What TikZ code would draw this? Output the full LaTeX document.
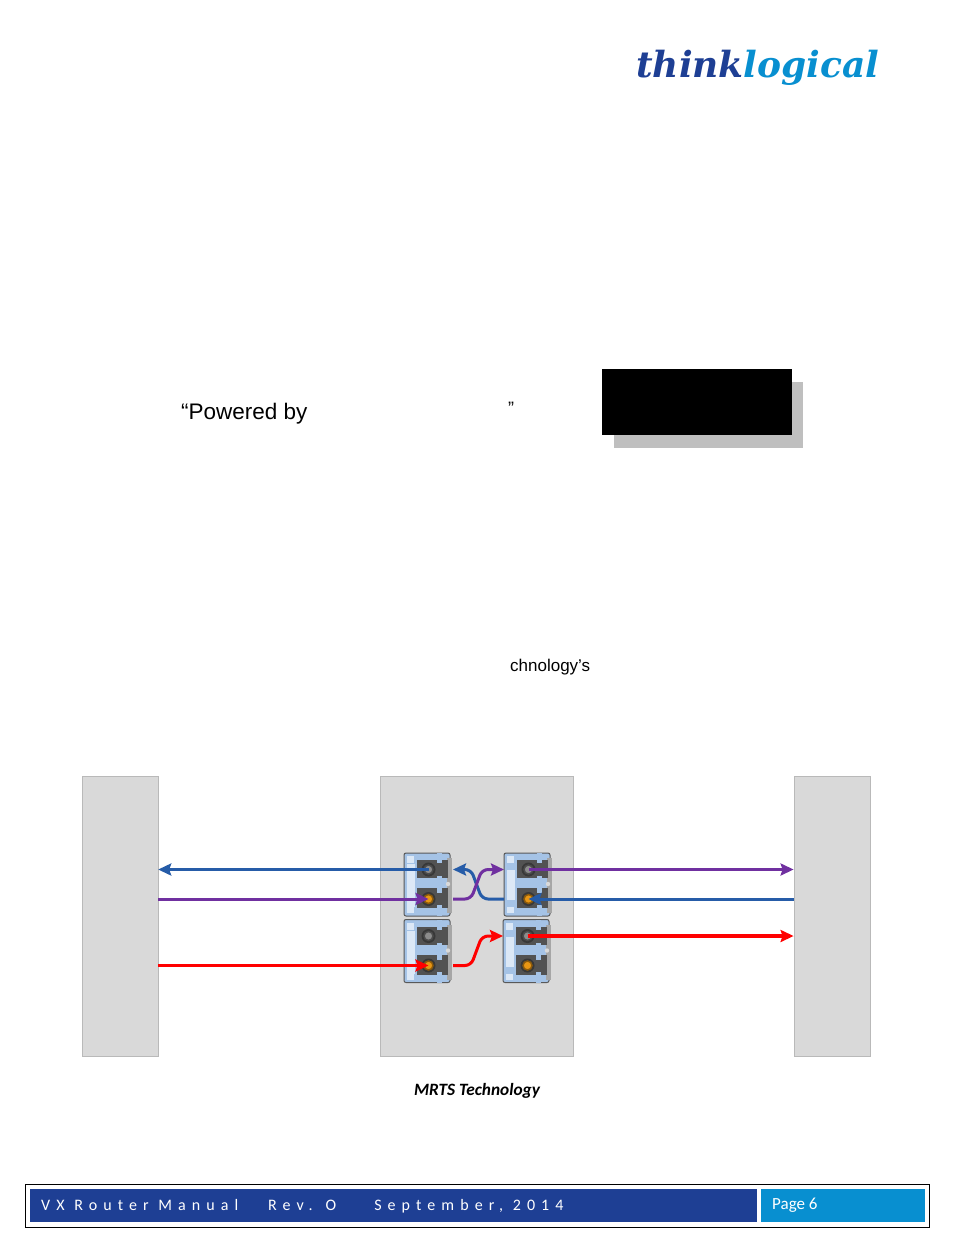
\documentclass[tikz,border=0pt]{standalone}
\usepackage{fontspec}
\setmainfont{Liberation Sans}
\newfontfamily\captionfont{Carlito}
\newfontfamily\footerfont[LetterSpace=38]{Carlito}
\newfontfamily\logofont{DejaVu Serif}
\usetikzlibrary{positioning,calc,arrows.meta}
\definecolor{panelColor}{RGB}{217,217,217}
\definecolor{panelEdge}{RGB}{185,185,185}
\definecolor{darkBlue}{RGB}{30,63,148}
\definecolor{lightBlue}{RGB}{8,143,208}
\definecolor{wireBlue}{RGB}{38,92,168}
\definecolor{wirePurple}{RGB}{112,48,160}
\definecolor{bodyBlue}{RGB}{165,195,230}
\definecolor{bandBlue}{RGB}{220,232,246}
\definecolor{portOrange}{RGB}{232,150,20}
\tikzset{
    panel/.style={
        draw=panelEdge,
        fill=panelColor,
        minimum height=280pt,
        inner sep=0pt
    },
    ptr/.style={
        -{Stealth[length=13pt,width=12pt,inset=2pt]},
        line width=3pt
    },
    socket/.style={
        circle,
        draw=black!70,
        line width=1.5pt,
        minimum size=9pt,
        inner sep=0pt
    },
    footerText/.style={
        text=white,
        anchor=west,
        inner sep=0pt
    },
    pics/relay/.style 2 args={
        code={
            \draw[rounded corners=2pt, draw=black!65, line width=1pt, fill=bodyBlue] (0,0) rectangle (46,63);
            \fill[gray!70] (43,5) rectangle (48,60);
            \fill[bandBlue] (3,#1) rectangle (11,#2);
            \fill[black!68] (13,7) rectangle (44,25);
            \fill[black!68] (13,35) rectangle (44,55);
            \fill[black!78] (24.5,16.5) circle (7);
            \fill[black!78] (24.5,46) circle (7);
            \fill[bodyBlue] (11,27) rectangle (43,33);
            \fill[bodyBlue] (33,0) rectangle (38,10);
            \fill[bodyBlue] (33,23) rectangle (38,40);
            \fill[bodyBlue] (33,52) rectangle (38,63);
            \fill[bandBlue] (3,3) rectangle (10,10);
            \fill[bandBlue] (3,54) rectangle (10,60);
            \fill[black!15] (44,31) circle (2.2);
            \node[socket, fill=black!45] (-top) at (24.5,16.5) {};
            \node[socket, fill=portOrange, draw=portOrange!60!black] (-bot) at (24.5,46) {};
            \coordinate (-nw) at (0,16.5);
            \coordinate (-sw) at (0,46);
            \coordinate (-ne) at (49,16.5);
            \coordinate (-se) at (49,46);
        }
    }
}
\begin{document}
\begin{tikzpicture}[x=1pt,y=-1pt]
    \useasboundingbox (0,0) rectangle (954,1235);
    % logo
    \node[anchor=base west, inner sep=0pt, font=\logofont\bfseries\itshape\fontsize{36}{36}\selectfont] (logo) at (636,77) {\textcolor{darkBlue}{think}\textcolor{lightBlue}{logical}};
    % text fragments and the black box
    \node[anchor=base west, inner sep=0pt, font=\fontsize{22.5}{23}\selectfont] (powered) at (181,419) {“Powered by};
    \node[anchor=base west, inner sep=0pt, font=\fontsize{18}{18}\selectfont] (quote) at (508,414) {”};
    \node[fill=black!25, minimum width=189pt, minimum height=66pt, inner sep=0pt] (shadow) at (708.5,415) {};
    \node[fill=black, minimum width=190pt, minimum height=66pt, inner sep=0pt] (blackbox) at (697,402) {};
    \node[anchor=base west, inner sep=0pt, font=\fontsize{17}{17}\selectfont] (tech) at (510,671) {chnology’s};

    % panels
    \node[panel, minimum width=76pt] (left) at (120,916) {};
    \node[panel, minimum width=193pt, right=222pt of left] (center) {};
    \node[panel, minimum width=76pt, right=220pt of center] (right) {};

    % relays
    \pic (mA) at (404,853) {relay={11}{54}};
    \pic (mB) at (504,853) {relay={17}{47}};
    \pic (mC) at (404,919.5) {relay={11}{54}};
    \pic (mD) at (503,919.5) {relay={17}{47}};

    % left side
    \draw[ptr, wireBlue] (mA-top.center) -- (left.east |- mA-top);
    \draw[ptr, wirePurple] (left.east |- mA-bot) -- (mA-bot.center);
    \draw[ptr, red] (left.east |- mC-bot) -- (mC-bot.center);
    % crossing
    \draw[ptr, wireBlue, rounded corners=6pt] (mB-sw) -- ++(-22,0) -- ($(mA-ne)+(18,0)$) -- (mA-ne);
    \draw[ptr, wirePurple, rounded corners=6pt] (mA-se) -- ++(18,0) -- ($(mB-nw)+(-22,0)$) -- (mB-nw);
    \draw[ptr, red, rounded corners=6pt] (mC-se) -- ++(18,0) -- ($(mD-nw)+(-21,0)$) -- (mD-nw);
    % right side
    \draw[ptr, wirePurple] (mB-top.center) -- (right.west |- mB-top);
    \draw[ptr, wireBlue] (right.west |- mB-bot) -- (mB-bot.center);
    \draw[ptr, red, line width=3.6pt] (mD-top.center) -- (right.west |- mD-top);

    \node[font=\captionfont\bfseries\itshape\fontsize{17.3}{17}\selectfont, inner sep=0pt] (caption) at (477,1091) {MRTS Technology};

    % footer
    \node[draw=black, line width=1pt, minimum width=904pt, minimum height=43pt, inner sep=0pt] (frame) at (477,1205.5) {};
    \node[fill=darkBlue, minimum width=727pt, minimum height=33pt, inner sep=0pt] (barA) at (393.5,1205.5) {};
    \node[fill=lightBlue, minimum width=164pt, minimum height=33pt, inner sep=0pt] (barB) at (843,1205.5) {};
    \node[footerText, font=\footerfont\fontsize{16}{16}\selectfont] (footA) at (41,1206.5) {VX Router Manual\hspace{30pt}Rev. O\hspace{38pt}September, 2014};
    \node[footerText, font=\captionfont\fontsize{17}{17}\selectfont] (footB) at (772,1205.5) {Page 6};
\end{tikzpicture}
\end{document}
